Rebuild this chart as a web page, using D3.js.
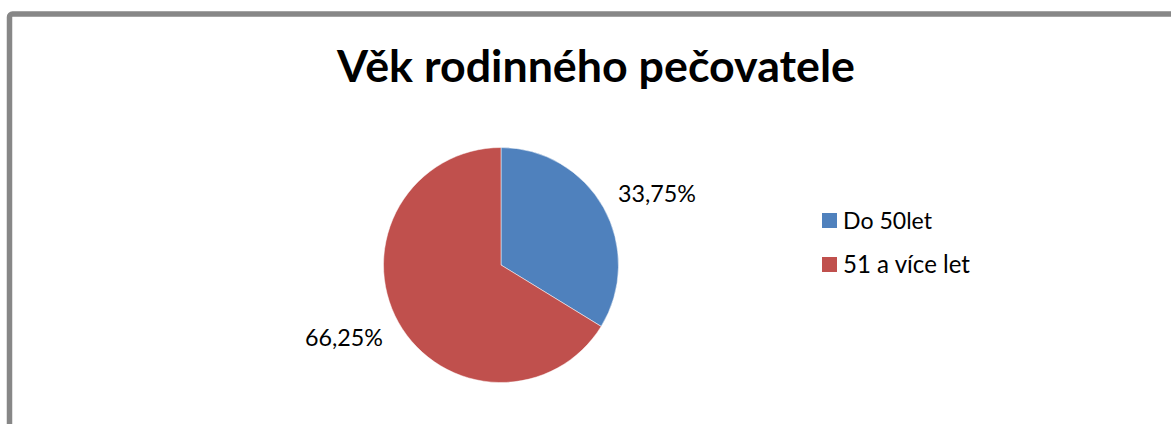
<!DOCTYPE html>
<html>
<head>
<meta charset="utf-8">
<script src="https://cdn.jsdelivr.net/npm/d3@7"></script>
<style>
  body { margin: 0; background: #fff; }
  text { font-family: Lato, "Liberation Sans", sans-serif; fill: #000; }
</style>
</head>
<body>
<div id="chart"></div>
<script>
const titleText = "Věk rodinného pečovatele";
const categories = ["Do 50let", "51 a více let"];
const values = [33.75, 66.25];
const labels = ["33,75%", "66,25%"];
const colors = ["#4F81BD", "#C0504D"];

let width = 1171, height = 424,
    cx = 501, cy = 265, radius = 117.5;

// scale a text's font so it spans roughly the width seen in the original
function fitWidth(sel, target) {
  sel.each(function() {
    let w = this.getComputedTextLength();
    let fs = parseFloat(d3.select(this).style("font-size"));
    if (w > 0) d3.select(this).style("font-size", (fs * target / w) + "px");
  });
}

let svg = d3.select("#chart")
  .append("svg")
    .attr("width", width)
    .attr("height", height);

svg.append("rect")
    .attr("width", width)
    .attr("height", height)
    .attr("fill", "white");

// outer chart frame (runs off the right and bottom)
svg.append("rect")
    .attr("x", 9.5)
    .attr("y", 14)
    .attr("width", width + 20)
    .attr("height", height + 20)
    .attr("rx", 3)
    .attr("fill", "none")
    .attr("stroke", "#878787")
    .attr("stroke-width", 5.5);

svg.append("text")
    .attr("x", 596)
    .attr("y", 82)
    .attr("text-anchor", "middle")
    .style("font-size", "42px")
    .style("font-weight", "bold")
    .text(titleText)
    .call(fitWidth, 518);

let pie = d3.pie().sort(null).value(d => d);
let arc = d3.arc().innerRadius(0).outerRadius(radius);
let arcs = pie(values);

let g = svg.append("g")
    .attr("transform", "translate(" + cx + "," + cy + ")");

g.selectAll("path")
  .data(arcs)
  .enter()
  .append("path")
    .attr("d", arc)
    .attr("fill", (d, i) => colors[i])
    .attr("stroke", "white")
    .attr("stroke-width", 0.5);

// data labels outside the slices
let labelPos = [[618, 202], [305, 346]];
g.selectAll(".lbl")
  .data(arcs)
  .enter()
  .append("text")
    .attr("class", "lbl")
    .attr("x", (d, i) => labelPos[i][0] - cx)
    .attr("y", (d, i) => labelPos[i][1] - cy)
    .style("font-size", "21px")
    .text((d, i) => labels[i])
    .call(fitWidth, 78);

// legend
let legend = svg.append("g")
    .attr("transform", "translate(822,213)");

let rows = legend.selectAll("g")
  .data(categories)
  .enter()
  .append("g")
    .attr("transform", (d, i) => "translate(0," + (i * 44) + ")");

rows.append("rect")
    .attr("width", 15)
    .attr("height", 15)
    .attr("fill", (d, i) => colors[i]);

let legendWidths = [89, 127];
rows.append("text")
    .attr("x", 21)
    .attr("y", 16)
    .style("font-size", "21px")
    .text(d => d)
    .each(function(d, i) { fitWidth(d3.select(this), legendWidths[i]); });
</script>
</body>
</html>
